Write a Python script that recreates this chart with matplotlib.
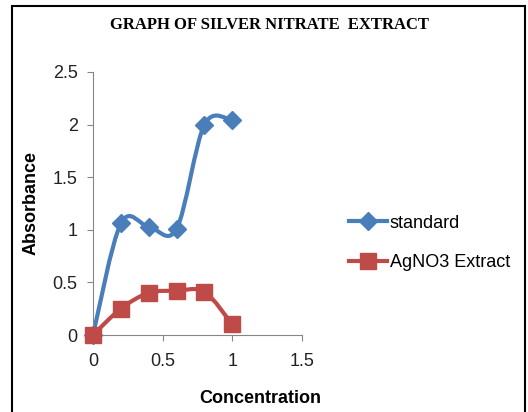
import numpy as np
import matplotlib.pyplot as plt
from matplotlib.path import Path
from matplotlib.patches import PathPatch, Rectangle
from matplotlib.lines import Line2D

concentration = [0, 0.2, 0.4, 0.6, 0.8, 1.0]
standard = [0, 1.06, 1.03, 1.01, 2.0, 2.04]
agno3_extract = [0, 0.25, 0.40, 0.42, 0.41, 0.10]

x_ticks = [0, 0.5, 1, 1.5]
x_tick_labels = ['0', '0.5', '1', '1.5']
y_ticks = [0, 0.5, 1, 1.5, 2, 2.5]
y_tick_labels = ['0', '0.5', '1', '1.5', '2', '2.5']

blue = '#4a7ebb'
red = '#be4b48'


def smooth_path(x, y):
    # bezier segments through the points, like a spreadsheet "smoothed line"
    pts = np.column_stack([x, y]).astype(float)
    n = len(pts)
    verts = [pts[0]]
    codes = [Path.MOVETO]
    for i in range(n - 1):
        p0 = pts[max(i - 1, 0)]
        p1 = pts[i]
        p2 = pts[i + 1]
        p3 = pts[min(i + 2, n - 1)]
        verts += [p1 + (p2 - p0) / 6, p2 - (p3 - p1) / 6, p2]
        codes += [Path.CURVE4] * 3
    return Path(verts, codes)


fig = plt.figure(figsize=(5.28, 4.12), dpi=100)
ax = fig.add_axes([93 / 528, 1 - 335 / 412, 209 / 528, 263 / 412])

series = [(standard, blue, 'D', 9.5, 'standard'),
          (agno3_extract, red, 's', 11, 'AgNO3 Extract')]
handles = []
z = 2
for values, color, marker, ms, label in series:
    ax.add_patch(PathPatch(smooth_path(concentration, values), facecolor='none',
                           edgecolor=color, lw=3, capstyle='round',
                           joinstyle='round', zorder=z, clip_on=False))
    ax.plot(concentration, values, linestyle='none', marker=marker, ms=ms,
            color=color, zorder=z + 1, clip_on=False)
    handles.append(Line2D([], [], color=color, lw=3, marker=marker, ms=ms, label=label))
    z += 2

ax.set_xlim(0, 1.5)
ax.set_ylim(0, 2.5)
ax.set_xticks(x_ticks)
ax.set_xticklabels(x_tick_labels)
ax.set_yticks(y_ticks)
ax.set_yticklabels(y_tick_labels)
for side in ['top', 'right']:
    ax.spines[side].set_visible(False)
for side in ['left', 'bottom']:
    ax.spines[side].set_color('#868686')
ax.tick_params(axis='both', direction='out', length=4, color='#868686',
               labelsize=13, labelcolor='#222222')
ax.tick_params(axis='x', pad=9)
ax.tick_params(axis='y', pad=7)
for lbl in ax.get_xticklabels() + ax.get_yticklabels():
    lbl.set_family('Liberation Sans')

ax.set_xlabel('Concentration', family='Liberation Sans', weight='bold', fontsize=13)
ax.set_ylabel('Absorbance', family='Liberation Sans', weight='bold', fontsize=13)
ax.xaxis.set_label_coords(0.80, -0.21)
ax.yaxis.set_label_coords(-0.255, 0.5)

fig.text(0.511, 0.939, 'GRAPH OF SILVER NITRATE  EXTRACT', ha='center', va='center',
         family='Liberation Serif', weight='bold', fontsize=12)

fig.legend(handles=handles, loc='center left', bbox_to_anchor=(333 / 528, 1 - 243 / 412),
           frameon=False, prop={'family': 'Liberation Sans', 'size': 13},
           handlelength=2.1, handletextpad=0.15, labelspacing=1.25)

fig.add_artist(Rectangle((12 / 528, -0.02), 513 / 528, 0.02 + 406 / 412,
                         transform=fig.transFigure, fill=False,
                         edgecolor='black', lw=1.5))

fig.savefig('out.png', dpi=100)
